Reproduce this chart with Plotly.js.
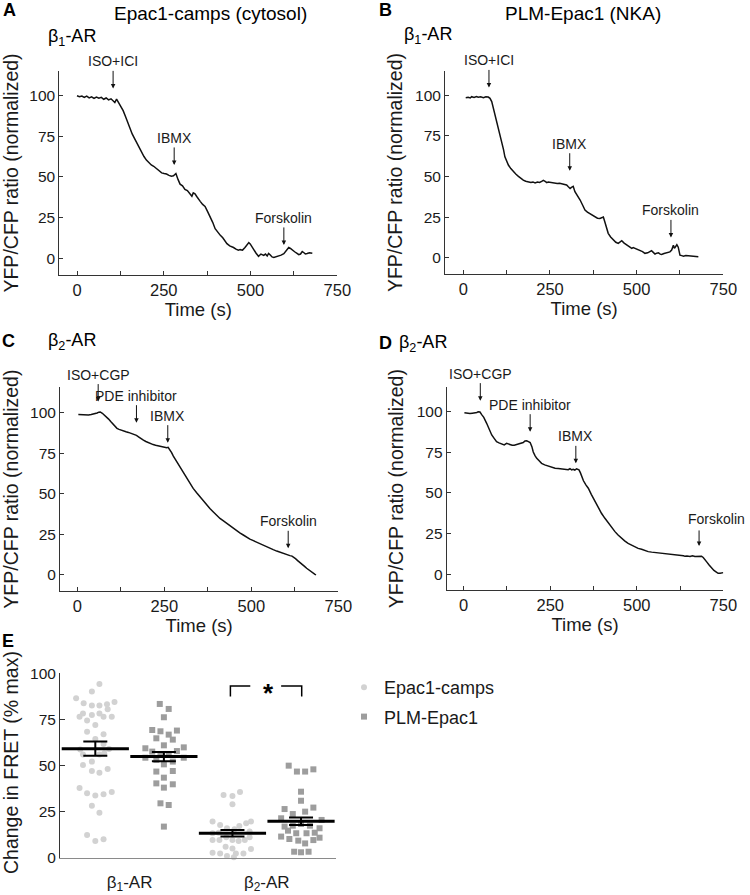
<!DOCTYPE html>
<html><head><meta charset="utf-8">
<script src="https://cdn.plot.ly/plotly-3.0.1.min.js"></script>
<style>html,body{margin:0;padding:0;background:#fff}#chart{width:750px;height:895px}</style>
</head><body><div id="chart"></div>
<script>
// ---------- Panel A: Epac1-camps, beta1-AR ----------
const tA = [0,7,14,21,28,35,42,49,56,63,
70,77,84,91,98,104,109,114,120,127,
133,140,146,152,159,166,172,179,186,193,
200,207,214,221,229,236,244,251,258,265,
272,278,285,291,297,304,311,318,326,331,
335,340,345,350,355,362,369,376,384,391,
398,405,413,420,427,432,440,447,451,458,
465,470,477,484,490,495,499,504,509,516,
523,530,538,543,548,552,557,562,567,574,
581,588,596,603,610,615,620,627,634,639,
644,649,654,658,663,670,678];
const vA = [100,99.4,99.8,98.9,99.7,98.6,99.3,98.3,99.2,98.5,
99.0,97.8,98.6,97.4,98.1,96.8,95.8,97.9,95.5,93.0,
90.8,87.0,83.5,79.3,76.5,73.6,71.0,68.4,65.0,62.6,
60.4,58.6,57.4,56.6,55.2,54.1,52.5,52.1,51.8,51.0,
50.5,50.7,52.1,48.5,45.6,44.6,42.4,41.6,39.1,38.1,
40.2,39.6,38.0,36.2,35.0,33.1,31.9,28.8,25.5,22.1,
18.2,16.0,14.1,12.6,10.6,9.0,7.6,7.1,6.6,5.6,
5.0,5.3,5.0,6.6,8.0,9.6,8.8,7.0,5.6,3.1,
1.2,2.6,1.8,2.6,1.4,3.0,2.0,0.8,0.5,0.9,
1.1,1.9,2.8,4.6,6.6,6.0,5.0,4.0,3.0,2.2,
2.6,4.1,3.4,2.6,2.9,3.4,3.1];
const eventsA = ['ISO+ICI','IBMX','Forskolin'];
const eventTA = [104,280,596];
const eventVA = [104.5,57.4,8.2];

// ---------- Panel B: PLM-Epac1, beta1-AR ----------
const tB = [7,14,20,24,31,38,43,50,58,65,
72,77,82,86,91,96,101,106,111,116,
120,125,130,137,144,152,159,166,173,180,
188,195,201,207,214,220,226,231,236,241,
245,252,258,264,271,278,284,291,298,303,
308,312,317,322,330,337,344,351,358,365,
373,380,387,394,399,404,409,413,418,425,
433,440,447,452,457,464,471,478,486,490,
495,503,510,517,524,532,538,543,548,553,
558,563,568,572,579,586,591,596,601,606,
609,613,616,620,622,625,630,635,642,649,
656,663,670,678];
const vB = [98.3,98.6,98.2,99.0,98.5,99.1,98.7,98.9,98.4,99.0,
98.8,98.0,96.0,92.5,88.7,84.5,80.5,76.0,72.0,66.5,
62.0,59.0,57.0,54.8,53.0,51.3,50.0,48.6,47.7,47.0,
46.7,46.2,46.6,46.0,46.5,46.3,46.9,47.6,47.0,46.2,
46.6,46.3,46.0,46.0,45.6,45.8,45.6,45.0,44.7,43.6,
42.6,43.3,43.9,40.6,38.0,35.5,32.4,29.3,28.0,27.0,
25.8,25.1,24.3,24.1,24.6,25.0,21.5,18.5,15.0,12.8,
10.9,9.5,8.8,9.6,10.5,9.0,7.8,6.6,5.7,6.2,
5.7,5.0,4.7,3.8,2.7,3.0,3.8,4.3,3.3,2.3,
2.8,3.0,2.2,2.0,2.6,2.9,3.0,3.6,4.7,7.6,
5.8,7.4,8.0,6.5,3.5,1.6,1.3,1.0,1.4,1.3,
1.0,1.2,0.9,0.6];
const eventsB = ['ISO+ICI','IBMX','Forskolin'];
const eventTB = [74,307,599];
const eventVB = [104.7,53.5,12.5];

// ---------- Panel C: Epac1-camps, beta2-AR ----------
const tC = [3,10,18,25,32,40,46,52,57,62,
66,72,78,84,90,96,102,108,114,120,
126,132,140,147,154,161,166,170,178,185,
190,197,204,211,218,225,232,238,245,252,
257,261,266,271,276,284,295,305,314,324,
333,343,352,362,372,381,391,400,410,419,
429,438,448,457,467,477,486,496,506,516,
525,535,544,554,563,573,582,592,600,606,
611,617,621,627,634,640,646,653,659,665,
671,677,683,686];
const vC = [98.8,98.7,98.6,98.7,98.6,98.8,99.0,99.3,99.8,100.3,
100.4,99.6,98.5,97.4,96.0,94.5,92.9,91.4,90.3,89.7,
89.1,88.8,88.2,87.8,87.3,87.0,86.5,86.0,84.8,83.6,
83.0,82.2,81.4,80.8,80.3,79.9,79.5,79.3,79.0,78.8,
78.4,78.6,77.3,75.4,73.2,70.3,66.7,63.0,59.5,56.5,
53.3,50.6,48.2,45.6,43.0,40.9,38.8,36.8,34.8,33.4,
31.8,30.2,28.4,27.4,25.9,24.6,23.2,22.1,21.1,20.1,
19.0,18.1,17.2,16.4,15.6,14.7,14.0,13.0,12.3,12.0,
11.9,11.6,11.1,10.0,8.7,7.8,6.6,5.3,4.1,3.0,
2.0,1.1,0.3,0.0];
const eventsC = ['ISO+CGP','PDE inhibitor','IBMX','Forskolin'];
const eventTC = [60,170,260,606];
const eventVC = [106.8,93.8,81.5,16.4];

// ---------- Panel D: PLM-Epac1, beta2-AR ----------
const tD = [2,10,18,25,33,38,42,47,52,58,
66,74,81,88,95,102,110,117,124,129,
134,140,146,153,160,167,172,177,182,187,
192,197,201,206,211,218,225,234,244,254,
264,273,283,292,302,307,312,316,321,326,
333,337,341,346,353,360,369,379,388,398,
408,418,427,437,446,456,465,475,485,495,
504,514,523,533,543,552,562,572,581,591,
600,610,620,630,635,639,645,654,661,668,
675,682,687,692,697,702,709,716,723,730,
735,741,746,750];
const vD = [99.4,99.0,98.9,99.1,99.3,99.5,100.0,99.8,98.2,96.5,
93.0,89.0,85.7,83.6,81.6,80.8,80.0,79.6,80.5,80.1,
79.6,79.3,79.4,79.9,80.2,80.6,81.0,82.0,82.1,81.6,
81.0,78.5,75.2,73.0,71.3,69.8,68.2,67.3,66.6,65.8,
65.2,65.1,64.8,64.6,64.3,64.9,64.2,64.6,64.1,64.8,
64.2,62.5,60.0,57.5,55.0,52.9,49.0,44.7,41.0,37.5,
34.4,31.4,28.7,26.2,24.1,22.1,20.5,19.0,17.8,16.6,
15.9,15.4,14.6,13.9,13.6,13.4,13.3,12.8,12.5,12.3,
12.1,11.9,11.7,11.6,11.3,11.0,11.2,10.9,11.4,10.9,
11.1,11.4,11.1,10.3,8.6,7.6,5.7,3.7,2.3,1.3,
0.6,0.6,1.0,1.0];
const eventsD = ['ISO+CGP','PDE inhibitor','IBMX','Forskolin'];
const eventTD = [48,192,324,680];
const eventVD = [106.8,87.7,68.2,17.4];

// ---------- Panel E: scatter of change in FRET ----------
const groupLabels = ['β<sub>1</sub>-AR','β<sub>2</sub>-AR'];
const seriesNames = ['Epac1-camps','PLM-Epac1'];
const epacB1Val = [94.2,90.1,86.5,83.8,82.5,82.5,83.2,84.5,80.5,78.3,
78.3,76.5,76.5,76.5,77.4,74.4,72.0,68.4,67.0,64.4,
61.7,58.8,59.0,56.1,56.1,56.7,52.2,50.4,48.2,47.1,
46.2,37.9,35.0,33.9,34.5,35.7,28.3,24.5,12.5,9.2,
10.1];
const plmB1Val = [83.4,80.7,76.2,69.3,68.6,66.8,69.0,64.8,64.1,61.0,
59.4,59.9,57.6,57.9,55.8,56.3,54.3,54.3,53.1,52.2,
50.7,46.8,47.1,43.5,40.4,39.9,38.1,29.6,28.7,17.0];
const epacB2Val = [34.1,33.6,35.7,29.1,19.7,17.9,16.1,15.5,17.3,18.8,
19.7,13.4,14.3,13.7,9.7,9.7,11.2,9.7,9.2,9.7,
11.2,6.1,5.2,4.9,2.9,2.5,1.1,2.5,2.5,0.4];
const plmB2Val = [50.0,46.8,46.8,48.0,35.9,31.0,26.5,27.3,23.8,25.1,
21.5,20.6,17.0,17.5,18.4,17.5,16.1,14.8,13.4,13.4,
13.7,11.6,10.3,9.4,11.0,7.9,9.7,3.4,3.1,3.4];
const groupMeans = [59.2,54.9,13.4,19.9];
const groupSems = [3.9,2.5,1.7,2.0];

// scatter jitter (horizontal spread of dots within each column)
const epacB1Jit = [0.06,-0.05,-0.28,-0.17,-0.05,0.06,0.17,0.28,0.18,-0.18,
0.06,-0.23,0.12,0.24,-0.05,-0.12,0.0,-0.12,0.12,0.0,
0.12,-0.22,0.2,-0.18,0.06,0.13,-0.05,-0.18,0.18,-0.05,
0.06,-0.23,-0.12,0.0,0.12,0.24,-0.05,0.06,-0.12,0.0,0.12];
const plmB1Jit = [-0.06,0.07,0.0,-0.17,-0.05,0.07,0.19,-0.11,0.13,0.0,
-0.27,0.29,-0.17,0.19,-0.05,0.07,-0.27,0.29,-0.11,0.13,
0.0,-0.11,0.13,0.0,-0.11,0.13,0.0,-0.05,0.07,0.0];
const epacB2Jit = [-0.13,0.0,0.11,0.0,-0.29,-0.18,-0.08,0.03,0.1,0.2,
0.27,-0.29,0.25,-0.2,-0.29,-0.19,-0.09,0.0,0.09,0.18,
0.25,-0.1,0.0,0.27,-0.29,-0.18,-0.08,0.05,0.16,0.02];
const plmB2Jit = [-0.18,-0.06,0.06,0.18,0.0,0.0,-0.24,0.18,-0.12,0.06,
-0.29,0.3,-0.24,-0.12,0.0,0.13,0.27,-0.19,-0.07,0.08,
0.2,-0.29,-0.17,-0.04,0.27,0.06,0.18,-0.1,0.0,0.11];
const groupPos = [1,2,3,4];

// ---------- build ----------
const FONT = 'Liberation Sans, Arial, Helvetica, sans-serif';
const INK = '#1a1a1a';
const AX = '#333';
const W = 750, H = 895;
const px = v => v / W;
const py = v => 1 - v / H;

function lineTrace(t, v, xa, ya) {
  return {x: t, y: v, xaxis: xa, yaxis: ya, type: 'scatter', mode: 'lines',
    line: {color: '#111', width: 1.5}, showlegend: false, hoverinfo: 'skip'};
}
const traces = [
  lineTrace(tA, vA, 'x', 'y'),
  lineTrace(tB, vB, 'x2', 'y2'),
  lineTrace(tC, vC, 'x3', 'y3'),
  lineTrace(tD, vD, 'x4', 'y4')
];

const epacX = epacB1Jit.map(d => groupPos[0] + d).concat(epacB2Jit.map(d => groupPos[2] + d));
const epacY = epacB1Val.concat(epacB2Val);
const plmX = plmB1Jit.map(d => groupPos[1] + d).concat(plmB2Jit.map(d => groupPos[3] + d));
const plmY = plmB1Val.concat(plmB2Val);
traces.push({x: epacX, y: epacY, xaxis: 'x5', yaxis: 'y5', type: 'scatter', mode: 'markers',
  name: seriesNames[0], legendgroup: 'a', cliponaxis: false,
  marker: {symbol: 'circle', size: 6, color: '#d2d2d2'}});
traces.push({x: plmX, y: plmY, xaxis: 'x5', yaxis: 'y5', type: 'scatter', mode: 'markers',
  name: seriesNames[1], legendgroup: 'b', cliponaxis: false,
  marker: {symbol: 'square', size: 6, color: '#9d9d9d'}});
traces.push({x: groupPos, y: groupMeans, xaxis: 'x5', yaxis: 'y5', type: 'scatter', mode: 'markers',
  showlegend: false, cliponaxis: false,
  marker: {symbol: 'line-ew', size: 48, color: '#000', line: {width: 3, color: '#000'}},
  error_y: {type: 'data', array: groupSems, visible: true, color: '#000', thickness: 2, width: 12}});

function timeAxis(dom, rng, anchor) {
  return {domain: dom, range: rng, anchor: anchor, showline: true, linecolor: AX, linewidth: 1,
    showgrid: false, zeroline: false, ticks: 'inside', ticklen: 4, tickcolor: AX,
    tick0: 0, dtick: 250, minor: {dtick: 125, ticks: 'inside', ticklen: 4, tickcolor: AX},
    tickfont: {family: FONT, size: 16.5, color: INK},
    title: {text: 'Time (s)', font: {family: FONT, size: 18.5, color: INK}, standoff: 5}};
}
function ratioAxis(dom, rng, anchor) {
  return {domain: dom, range: rng, anchor: anchor, showline: true, linecolor: AX, linewidth: 1,
    showgrid: false, zeroline: false, ticks: 'inside', ticklen: 4, tickcolor: AX,
    tick0: 0, dtick: 25, tickfont: {family: FONT, size: 15.5, color: INK},
    title: {text: 'YFP/CFP ratio (normalized)', font: {family: FONT, size: 19.5, color: INK}, standoff: 7}};
}

const layout = {
  width: W, height: H, margin: {l: 0, r: 0, t: 0, b: 0},
  paper_bgcolor: '#fff', plot_bgcolor: 'rgba(0,0,0,0)',
  font: {family: FONT, color: INK},
  showlegend: true,
  legend: {x: px(344), y: py(669), xanchor: 'left', yanchor: 'top',
    font: {family: FONT, size: 18, color: INK}, bgcolor: 'rgba(0,0,0,0)', tracegroupgap: 3},
  xaxis: timeAxis([px(59.3), px(337.3)], [-51, 750], 'y'),
  yaxis: ratioAxis([py(275), py(71)], [-10.3, 115.2], 'x'),
  xaxis2: timeAxis([px(445), px(723.3)], [-52.8, 750], 'y2'),
  yaxis2: ratioAxis([py(274), py(71)], [-10.0, 114.8], 'x2'),
  xaxis3: timeAxis([px(60), px(338.3)], [-49.7, 750], 'y3'),
  yaxis3: ratioAxis([py(591), py(387.3)], [-9.9, 115.6], 'x3'),
  xaxis4: timeAxis([px(446.7), px(723.3)], [-49.1, 750], 'y4'),
  yaxis4: ratioAxis([py(590), py(387.3)], [-9.7, 115], 'x4'),
  xaxis5: {domain: [px(60), px(336)], range: [0.485, 4.51], anchor: 'y5', showline: true,
    linecolor: '#8a8a8a', linewidth: 1.2, showgrid: false, zeroline: false, ticks: '',
    tickvals: [1.5, 3.5], ticktext: groupLabels, ticklabelstandoff: 8,
    tickfont: {family: FONT, size: 17, color: INK}},
  yaxis5: {domain: [py(858), py(673.3)], range: [0, 100], anchor: 'x5', showline: true,
    linecolor: AX, linewidth: 1, showgrid: false, zeroline: false, ticks: 'inside', ticklen: 5,
    tickcolor: AX, tick0: 0, dtick: 25, tickfont: {family: FONT, size: 15.5, color: INK}},
  annotations: [],
  shapes: []
};

// drug-addition arrows
function addEvents(labels, ts, vs, xa, ya, textDx) {
  labels.forEach((lab, i) => {
    const dx = textDx ? textDx[i] : 0;
    if (dx === 0) {
      layout.annotations.push({x: ts[i], y: vs[i], xref: xa, yref: ya, text: lab, showarrow: true,
        ax: 0, ay: -27, arrowhead: 2, arrowsize: 0.9, arrowwidth: 1, arrowcolor: '#111', standoff: 0,
        font: {family: FONT, size: 14, color: INK}});
    } else {
      layout.annotations.push({x: ts[i], y: vs[i], xref: xa, yref: ya, text: ' ', showarrow: true,
        ax: 0, ay: -18, arrowhead: 2, arrowsize: 0.9, arrowwidth: 1, arrowcolor: '#111', standoff: 0,
        font: {family: FONT, size: 2, color: INK}});
      layout.annotations.push({x: ts[i], y: vs[i], xref: xa, yref: ya, text: lab, showarrow: false,
        xshift: dx, yshift: 27, font: {family: FONT, size: 14, color: INK}});
    }
  });
}
addEvents(eventsA, eventTA, eventVA, 'x', 'y');
addEvents(eventsB, eventTB, eventVB, 'x2', 'y2');
addEvents(eventsC, eventTC, eventVC, 'x3', 'y3');
addEvents(eventsD, eventTD, eventVD, 'x4', 'y4', [0, 0, 0, 17]);

// panel letters, titles, receptor labels
function paperText(text, x, y, size, opts) {
  layout.annotations.push(Object.assign({text: text, x: px(x), y: py(y), xref: 'paper', yref: 'paper',
    showarrow: false, xanchor: 'center', yanchor: 'middle',
    font: {family: FONT, size: size, color: '#000'}}, opts || {}));
}
paperText('<b>A</b>', 9, 10, 18);
paperText('<b>B</b>', 385, 10, 18);
paperText('<b>C</b>', 8, 341, 18);
paperText('<b>D</b>', 385, 343, 18);
paperText('<b>E</b>', 8, 641, 18);
paperText('Epac1-camps (cytosol)', 210, 13, 19);
paperText('PLM-Epac1 (NKA)', 583, 13, 19);
paperText('β<sub>1</sub>-AR', 46, 37, 18, {xanchor: 'left'});
paperText('β<sub>1</sub>-AR', 402, 36, 18, {xanchor: 'left'});
paperText('β<sub>2</sub>-AR', 46, 342, 18, {xanchor: 'left'});
paperText('β<sub>2</sub>-AR', 397, 343, 18, {xanchor: 'left'});
// y-axis title of panel E (placed to match the reference)
paperText('Change in FRET (% max)', 11, 763, 19.5, {textangle: -90, font: {family: FONT, size: 19.5, color: INK}});

// significance bracket between beta2 groups
const bx0 = groupPos[2] - 0.03, bx1 = groupPos[3] + 0.01, byT = 93.1, byB = 87.4;
layout.shapes.push({type: 'path', xref: 'x5', yref: 'y5',
  path: `M ${bx0},${byB} L ${bx0},${byT} L ${bx0 + 0.29},${byT}`, line: {color: '#000', width: 1.5}});
layout.shapes.push({type: 'path', xref: 'x5', yref: 'y5',
  path: `M ${bx1 - 0.3},${byT} L ${bx1},${byT} L ${bx1},${byB}`, line: {color: '#000', width: 1.5}});
layout.annotations.push({x: (bx0 + bx1) / 2 + 0.03, y: 91.9, xref: 'x5', yref: 'y5', text: '<b>*</b>',
  showarrow: false, yanchor: 'middle', yshift: -5, font: {family: FONT, size: 26, color: '#000'}});

Plotly.newPlot('chart', traces, layout, {staticPlot: true, displayModeBar: false});
</script></body></html>
